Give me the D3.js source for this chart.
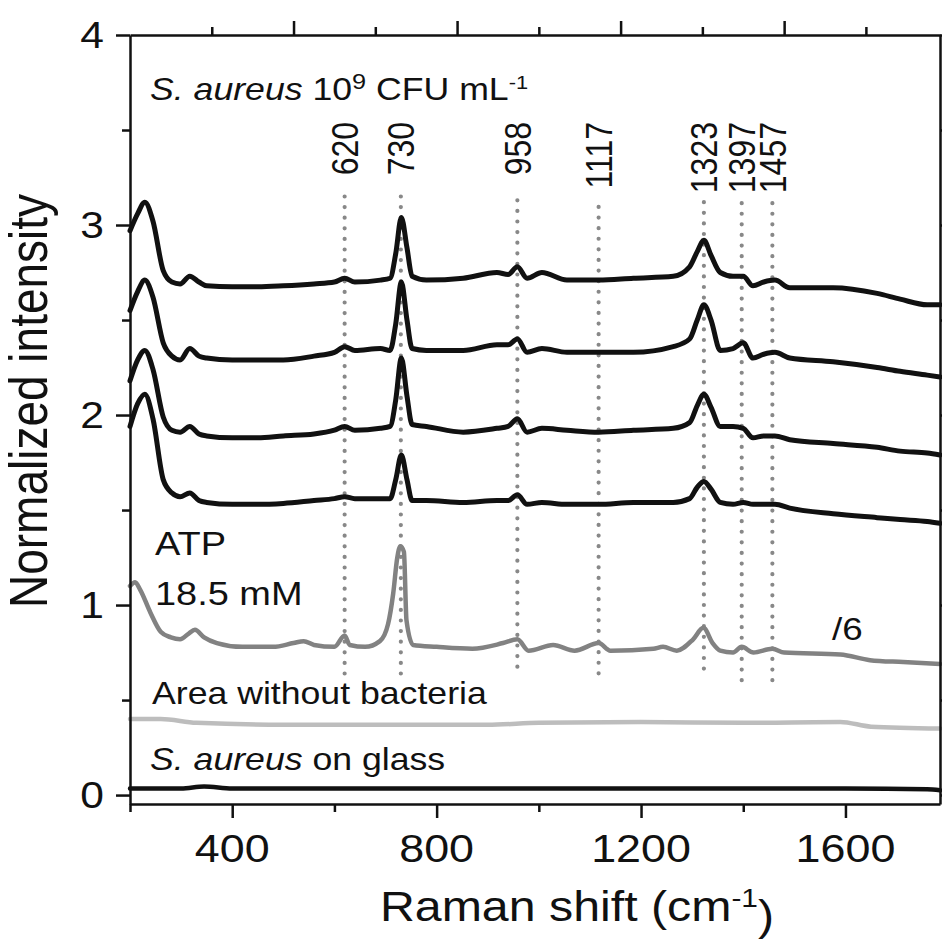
<!DOCTYPE html>
<html>
<head>
  <meta charset="utf-8">
  <script src="https://cdnjs.cloudflare.com/ajax/libs/d3/7.8.5/d3.min.js"></script>
  <style>
    body { margin: 0; padding: 0; background: #fff; }
    text { font-family: "Liberation Sans", Arial, sans-serif; fill: #111; }
    .axis path, .axis line { stroke: #111; stroke-width: 2.5px; }
    .spec { fill: none; stroke-linejoin: round; stroke-linecap: round; }
  </style>
</head>
<body>
<svg width="942" height="941"></svg>
<script>
  // shared wavenumber grid for the four S. aureus spectra
  let shiftGrid = [200, 215, 229, 245, 265, 282, 298, 317, 335, 350, 400, 450, 500, 560, 600, 620, 640, 690, 709, 720,
    731, 742, 752, 780, 852, 918, 940, 958, 977, 1006, 1055, 1117, 1185, 1263, 1295, 1310, 1323, 1337, 1355, 1380,
    1400, 1419, 1440, 1462, 1491, 1576, 1662, 1707, 1760, 1785];

  let bact1 = [2.97, 3.06, 3.12, 3.02, 2.76, 2.70, 2.69, 2.73, 2.70, 2.68, 2.675, 2.675, 2.68, 2.69, 2.70, 2.72, 2.70, 2.71, 2.72, 2.85,
    3.04, 2.88, 2.73, 2.71, 2.72, 2.75, 2.74, 2.78, 2.72, 2.75, 2.71, 2.71, 2.72, 2.73, 2.78, 2.86, 2.92, 2.84, 2.75, 2.73,
    2.73, 2.68, 2.70, 2.71, 2.67, 2.67, 2.64, 2.61, 2.58, 2.58];
  let bact2 = [2.55, 2.65, 2.71, 2.62, 2.38, 2.31, 2.29, 2.35, 2.31, 2.30, 2.29, 2.29, 2.29, 2.31, 2.33, 2.36, 2.34, 2.35, 2.34, 2.48,
    2.70, 2.50, 2.35, 2.34, 2.34, 2.37, 2.37, 2.40, 2.33, 2.35, 2.33, 2.33, 2.33, 2.36, 2.40, 2.50, 2.58, 2.50, 2.34, 2.35,
    2.38, 2.30, 2.32, 2.33, 2.30, 2.28, 2.25, 2.23, 2.21, 2.20];
  let bact3 = [2.18, 2.29, 2.34, 2.24, 1.99, 1.92, 1.91, 1.94, 1.90, 1.89, 1.88, 1.88, 1.89, 1.90, 1.92, 1.94, 1.92, 1.93, 1.94, 2.08,
    2.30, 2.10, 1.95, 1.94, 1.91, 1.93, 1.94, 1.98, 1.91, 1.93, 1.92, 1.91, 1.92, 1.93, 1.96, 2.05, 2.11, 2.04, 1.94, 1.94,
    1.93, 1.88, 1.89, 1.89, 1.87, 1.85, 1.83, 1.81, 1.80, 1.79];
  let bact4 = [1.94, 2.06, 2.11, 1.98, 1.66, 1.59, 1.57, 1.59, 1.55, 1.54, 1.53, 1.53, 1.535, 1.55, 1.56, 1.57, 1.56, 1.56, 1.56, 1.66,
    1.79, 1.66, 1.55, 1.55, 1.54, 1.55, 1.55, 1.58, 1.53, 1.54, 1.53, 1.53, 1.54, 1.54, 1.56, 1.62, 1.65, 1.61, 1.54, 1.53,
    1.54, 1.53, 1.53, 1.53, 1.51, 1.48, 1.46, 1.45, 1.44, 1.43];

  // ATP 18.5 mM (divided by 6)
  let atpShift = [200, 210, 220, 240, 260, 280, 298, 315, 327, 345, 370, 420, 480, 520, 540, 560, 600, 620, 630, 660,
    689, 705, 715, 723, 729, 736, 741, 754, 800, 870, 930, 958, 980, 1028, 1070, 1117, 1140, 1224, 1243, 1270,
    1302, 1322, 1340, 1355, 1380, 1397, 1420, 1457, 1480, 1590, 1648, 1713, 1785];
  let atpValue = [1.10, 1.12, 1.08, 0.96, 0.86, 0.83, 0.82, 0.85, 0.87, 0.83, 0.80, 0.78, 0.78, 0.80, 0.81, 0.79, 0.78, 0.84, 0.79, 0.78,
    0.81, 0.90, 1.06, 1.25, 1.31, 1.28, 0.92, 0.79, 0.78, 0.77, 0.80, 0.82, 0.76, 0.79, 0.76, 0.80, 0.76, 0.77, 0.78, 0.76,
    0.82, 0.88, 0.80, 0.76, 0.75, 0.78, 0.75, 0.77, 0.75, 0.74, 0.71, 0.70, 0.69];

  // area without bacteria
  let bareShift = [200, 260, 330, 500, 700, 900, 1000, 1200, 1400, 1590, 1650, 1785];
  let bareValue = [0.40, 0.40, 0.38, 0.37, 0.37, 0.37, 0.38, 0.385, 0.38, 0.385, 0.36, 0.35];

  // S. aureus on glass
  let glassShift = [200, 300, 345, 400, 800, 1200, 1600, 1760, 1785];
  let glassValue = [0.035, 0.035, 0.045, 0.035, 0.035, 0.035, 0.035, 0.03, 0.025];

  // marked bands
  let peaks = [620, 730, 958, 1117, 1323, 1397, 1457];
  let peakTop = [3.15, 3.15, 3.13, 3.095, 3.12, 3.115, 3.115];
  let peakBottom = [0.63, 0.63, 0.62, 0.63, 0.61, 0.595, 0.595];

  // ticks
  let xMajor = [400, 800, 1200, 1600];
  let xMinor = [200, 600, 1000, 1400];
  let topMajor = [520, 840, 1160, 1480];
  let topMinor = [360, 680, 1000, 1320, 1640];
  let yMajor = [0, 1, 2, 3, 4];
  let yMinor = [0.5, 1.5, 2.5, 3.5];

  const SX = 1.15; // the figure is a little stretched sideways

  let svg = d3.select("svg"),
    plotL = 130, plotR = 940, plotT = 35, plotB = 804;

  let x = d3.scaleLinear().domain([200, 1785]).range([plotL, plotR]);
  let y = d3.scaleLinear().domain([-0.047, 4]).range([plotB, plotT]);

  // helper for stretched text
  function txt(px, py, size, rot) {
    return svg.append("text")
      .attr("transform", "translate(" + px + "," + py + ") scale(" + SX + ",1)" + (rot ? " rotate(-90)" : ""))
      .style("font-size", size + "px");
  }

  //dotted band markers
  svg.append("g").selectAll("line")
    .data(peaks)
    .enter().append("line")
    .attr("x1", d => x(d)).attr("x2", d => x(d))
    .attr("y1", (d, i) => y(peakTop[i])).attr("y2", (d, i) => y(peakBottom[i]))
    .attr("stroke", "#888")
    .attr("stroke-width", 4.2)
    .attr("stroke-linecap", "round")
    .attr("stroke-dasharray", "0 10.6");

  //spectra
  let line = d3.line()
    .curve(d3.curveMonotoneX)
    .x(d => x(d[0]))
    .y(d => y(d[1]));

  let series = [
    { xs: glassShift, ys: glassValue, color: "#111", w: 4.5 },
    { xs: bareShift, ys: bareValue, color: "#bdbdbd", w: 4.5 },
    { xs: atpShift, ys: atpValue, color: "#828282", w: 4.5 },
    { xs: shiftGrid, ys: bact4, color: "#111", w: 5 },
    { xs: shiftGrid, ys: bact3, color: "#111", w: 5 },
    { xs: shiftGrid, ys: bact2, color: "#111", w: 5 },
    { xs: shiftGrid, ys: bact1, color: "#111", w: 5 }
  ];

  svg.append("g").selectAll("path")
    .data(series)
    .enter().append("path")
    .attr("class", "spec")
    .attr("d", s => line(s.xs.map((v, i) => [v, s.ys[i]])))
    .attr("stroke", s => s.color)
    .attr("stroke-width", s => s.w);

  //axes
  function tickAxis(axisFn, scale, major, minor, pos, inward) {
    let big = inward ? -14 : 14, small = inward ? -8 : 8;
    svg.append("g").attr("class", "axis").attr("transform", pos)
      .call(axisFn(scale).tickValues(major).tickSize(big).tickSizeOuter(0).tickFormat(""));
    svg.append("g").attr("class", "axis").attr("transform", pos)
      .call(axisFn(scale).tickValues(minor).tickSize(small).tickSizeOuter(0).tickFormat(""))
      .select(".domain").remove();
  }
  tickAxis(d3.axisBottom, x, xMajor, xMinor, "translate(0," + plotB + ")", false);
  tickAxis(d3.axisBottom, x, topMajor, topMinor, "translate(0," + plotT + ")", true);
  tickAxis(d3.axisLeft, y, yMajor, yMinor, "translate(" + plotL + ",0)", false);
  tickAxis(d3.axisLeft, y, yMajor, yMinor, "translate(" + plotR + ",0)", true);

  //tick labels
  yMajor.forEach(v => {
    txt(104, y(v), 37).attr("text-anchor", "end").attr("dy", "0.36em").text(v);
  });
  xMajor.forEach(v => {
    txt(x(v), 862, 39).attr("text-anchor", "middle").text(v);
  });

  //axis titles
  let xt = txt(577, 921, 42).attr("text-anchor", "middle");
  xt.append("tspan").text("Raman shift (cm");
  xt.append("tspan").attr("dy", "-0.55em").style("font-size", "26px").text("-1");
  xt.append("tspan").attr("dy", "0.55em").text(")");

  txt(47, 401, 46, true).attr("text-anchor", "middle").text("Normalized intensity");

  //peak labels
  peaks.forEach(p => {
    txt(x(p), 122, 32, true).attr("text-anchor", "end").attr("dy", "0.36em").text(p);
  });

  //annotations
  let title = txt(150, 100, 31);
  title.append("tspan").style("font-style", "italic").text("S. aureus");
  title.append("tspan").text(" 10");
  title.append("tspan").attr("dy", "-0.5em").style("font-size", "22px").text("9");
  title.append("tspan").attr("dy", "0.35em").text(" CFU mL");
  title.append("tspan").attr("dy", "-0.55em").style("font-size", "19px").text("-1");

  txt(155, 555, 33).text("ATP");
  txt(155, 605, 33).text("18.5 mM");
  txt(832, 640, 32).text("/6");
  txt(152, 704, 31).text("Area without bacteria");
  let glass = txt(150, 770, 31);
  glass.append("tspan").style("font-style", "italic").text("S. aureus");
  glass.append("tspan").text(" on glass");
</script>
</body>
</html>
